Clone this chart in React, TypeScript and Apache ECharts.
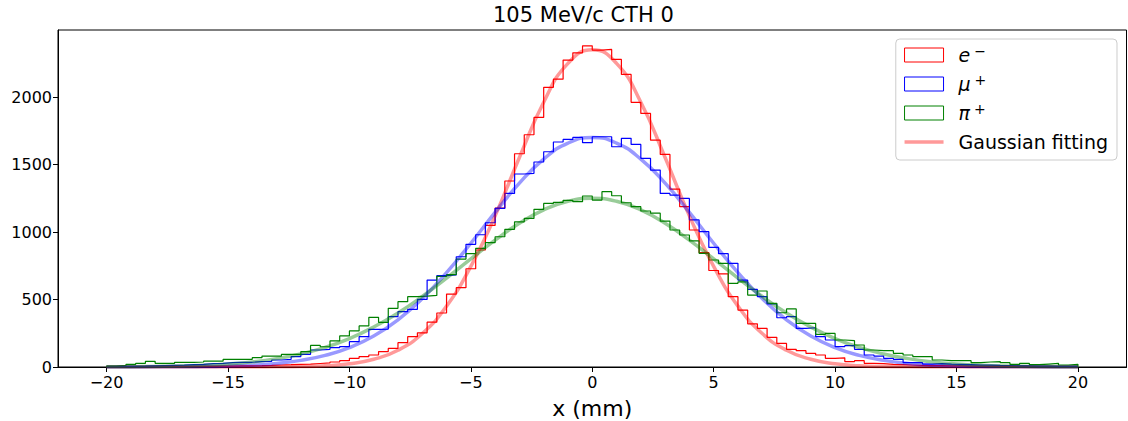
import React, { useEffect, useRef } from "react";
import * as echarts from "echarts";

// Histogram binning: 100 bins of 0.4 mm from -20 mm to 20 mm
const BIN_START = -20;
const BIN_WIDTH = 0.4;

const E_COUNTS = [
  1, 1, 1, 2, 2, 2, 3, 3, 4, 4,
  5, 6, 7, 8, 9, 10, 12, 15, 17, 20,
  22, 26, 30, 37, 47, 64, 77, 89, 114, 138,
  180, 225, 253, 332, 400, 540, 588, 728, 867, 1049,
  1178, 1378, 1580, 1721, 1849, 2072, 2133, 2274, 2328, 2380,
  2348, 2353, 2279, 2168, 1961, 1879, 1681, 1575, 1318, 1188,
  1015, 848, 715, 690, 521, 422, 320, 286, 220, 175,
  131, 121, 101, 89, 64, 68, 40, 47, 27, 25,
  20, 18, 15, 12, 10, 10, 9, 8, 7, 6,
  5, 5, 4, 3, 3, 2, 2, 2, 1, 1,
];

const MU_COUNTS = [
  3, 4, 5, 6, 8, 10, 12, 14, 17, 20,
  25, 27, 32, 35, 35, 40, 42, 52, 57, 77,
  94, 126, 131, 143, 151, 188, 225, 279, 281, 373,
  410, 427, 501, 644, 677, 682, 817, 909, 980, 1069,
  1175, 1286, 1430, 1435, 1519, 1595, 1667, 1686, 1701, 1662,
  1706, 1706, 1632, 1694, 1649, 1546, 1459, 1286, 1274, 1249,
  1090, 1003, 886, 840, 768, 644, 575, 521, 467, 365,
  373, 286, 291, 225, 200, 151, 158, 131, 89, 81,
  64, 57, 32, 32, 22, 25, 22, 20, 18, 15,
  14, 12, 11, 9, 8, 7, 6, 5, 5, 4,
];

const PI_COUNTS = [
  7, 12, 20, 27, 42, 27, 27, 35, 35, 37,
  44, 44, 57, 57, 57, 69, 81, 81, 94, 94,
  114, 160, 150, 193, 230, 267, 304, 368, 331, 435,
  484, 521, 525, 530, 672, 685, 800, 840, 879, 921,
  965, 1020, 1076, 1101, 1168, 1212, 1220, 1235, 1225, 1267,
  1237, 1299, 1269, 1217, 1188, 1156, 1140, 1081, 1015, 978,
  935, 842, 793, 768, 620, 630, 533, 563, 472, 402,
  430, 323, 323, 242, 249, 200, 195, 163, 126, 121,
  121, 101, 89, 77, 77, 52, 47, 47, 47, 32,
  37, 40, 32, 20, 27, 17, 22, 27, 15, 20,
];

// Gaussian fitting curves sampled every 1 mm from -20 to 20
const FIT_X = [
  -20, -19, -18, -17, -16, -15, -14, -13, -12, -11, -10, -9, -8, -7, -6, -5, -4, -3, -2, -1,
  0, 1, 2, 3, 4, 5, 6, 7, 8, 9, 10, 11, 12, 13, 14, 15, 16, 17, 18, 19, 20,
];
const E_FIT = [
  0, 0, 0, 0, 0, 0, 0, 1, 3, 9, 24, 57, 124, 248, 451, 746, 1120, 1552, 1962, 2250,
  2350, 2250, 1962, 1552, 1120, 746, 451, 248, 124, 57, 24, 9, 3, 1, 0, 0, 0, 0, 0, 0, 0,
];
const MU_FIT = [
  0, 0, 1, 1, 3, 7, 13, 26, 49, 86, 144, 230, 350, 507, 699, 917, 1145, 1362, 1540, 1659,
  1700, 1659, 1540, 1362, 1145, 917, 699, 507, 350, 230, 144, 86, 49, 26, 13, 7, 3, 1, 1, 0, 0,
];
const PI_FIT = [
  1, 2, 4, 7, 13, 23, 38, 62, 96, 145, 211, 296, 400, 523, 659, 801, 940, 1065, 1164, 1228,
  1250, 1228, 1164, 1065, 940, 801, 659, 523, 400, 296, 211, 145, 96, 62, 38, 23, 13, 7, 4, 2, 1,
];

const X_TICKS = [-20, -15, -10, -5, 0, 5, 10, 15, 20];
const Y_TICKS = [0, 500, 1000, 1500, 2000];

const TITLE = "105 MeV/c CTH 0";
const X_LABEL = "x (mm)";
const NAME_E = "e−";
const NAME_MU = "μ+";
const NAME_PI = "π+";
const NAME_FIT = "Gaussian fitting";

function stepData(counts: number[]): number[][] {
  const pts: number[][] = [[BIN_START, 0]];
  counts.forEach((c, i) => pts.push([BIN_START + i * BIN_WIDTH, c]));
  const end = BIN_START + counts.length * BIN_WIDTH;
  pts.push([end, counts[counts.length - 1]]);
  pts.push([end, 0]);
  return pts;
}

function fitData(vals: number[]): number[][] {
  return FIT_X.map((x, i) => [x, vals[i]]);
}

const FONT = "DejaVu Sans";
const minus = (v: number) => String(v).replace("-", "\u2212");

export default function App() {
  const ref = useRef<HTMLDivElement>(null);
  useEffect(() => {
    if (!ref.current) return;
    const chart = echarts.init(ref.current, undefined, { renderer: "svg" });
    const histSeries = (name: string, color: string, counts: number[]) => ({
      name,
      type: "line",
      step: "end",
      data: stepData(counts),
      symbol: "none",
      showSymbol: false,
      lineStyle: { color, width: 1.2 },
      itemStyle: { color },
      z: 2,
    });
    const fitSeries = (name: string, color: string, vals: number[]) => ({
      name,
      type: "line",
      data: fitData(vals),
      smooth: 0.5,
      symbol: "none",
      showSymbol: false,
      lineStyle: { color, width: 3.5 },
      itemStyle: { color },
      z: 3,
    });
    chart.setOption({
      animation: false,
      backgroundColor: "#ffffff",
      title: {
        text: TITLE,
        left: 493,
        top: 4,
        padding: 0,
        textStyle: { fontFamily: FONT, fontSize: 21, fontWeight: "normal", color: "#000" },
      },
      grid: {
        left: 58,
        right: 1.5,
        top: 30,
        bottom: 54,
        containLabel: false,
        outerBoundsMode: "none",
        show: true,
        borderColor: "#000",
        borderWidth: 1,
        backgroundColor: "transparent",
      },
      legend: {
        orient: "vertical",
        right: 11,
        top: 39,
        itemWidth: 39,
        itemHeight: 14,
        itemGap: 7,
        padding: [5, 9, 7, 7],
        backgroundColor: "rgba(255,255,255,0.8)",
        borderColor: "#cccccc",
        borderWidth: 1,
        borderRadius: 4,
        selectedMode: false,
        formatter: (name: string) => {
          if (name === NAME_E) return "{i|e}{s|−}";
          if (name === NAME_MU) return "{i|μ}{s|+}";
          if (name === NAME_PI) return "{i|π}{s|+}";
          return name;
        },
        textStyle: {
          fontFamily: FONT,
          fontSize: 19,
          color: "#000",
          lineHeight: 22,
          padding: [0, 0, 0, 10],
          rich: {
            i: { fontFamily: FONT, fontSize: 19, fontStyle: "italic", color: "#000", lineHeight: 22 },
            s: { fontFamily: FONT, fontSize: 14, color: "#000", verticalAlign: "top", lineHeight: 13, padding: [0, 0, 0, 4] },
          },
        },
        data: [
          { name: NAME_E, icon: "rect", itemStyle: { color: "rgba(0,0,0,0)", borderColor: "#ff0000", borderWidth: 1 } },
          { name: NAME_MU, icon: "rect", itemStyle: { color: "rgba(0,0,0,0)", borderColor: "#0000ff", borderWidth: 1 } },
          { name: NAME_PI, icon: "rect", itemStyle: { color: "rgba(0,0,0,0)", borderColor: "#008000", borderWidth: 1 } },
          { name: NAME_FIT, itemStyle: { opacity: 0 }, lineStyle: { width: 3.5, color: "#ff9999" } },
        ],
      },
      xAxis: {
        type: "value",
        min: -22,
        max: 22,
        splitLine: { show: false },
        axisLine: { onZero: false, lineStyle: { color: "#000", width: 1 } },
        axisTick: { customValues: X_TICKS, length: 5, lineStyle: { color: "#000", width: 1 } },
        axisLabel: {
          customValues: X_TICKS,
          formatter: (v: number) => minus(v),
          fontFamily: FONT,
          fontSize: 16,
          color: "#000",
          margin: 7,
        },
        name: X_LABEL,
        nameLocation: "middle",
        nameGap: 30,
        nameTextStyle: { fontFamily: FONT, fontSize: 22, color: "#000" },
      },
      yAxis: {
        type: "value",
        min: 0,
        max: 2497,
        splitLine: { show: false },
        axisLine: { show: true, onZero: false, lineStyle: { color: "#000", width: 1 } },
        axisTick: { show: true, customValues: Y_TICKS, length: 5, lineStyle: { color: "#000", width: 1 } },
        axisLabel: {
          customValues: Y_TICKS,
          formatter: (v: number) => String(v),
          fontFamily: FONT,
          fontSize: 16,
          color: "#000",
          margin: 6,
        },
      },
      series: [
        histSeries(NAME_E, "#ff0000", E_COUNTS),
        histSeries(NAME_MU, "#0000ff", MU_COUNTS),
        histSeries(NAME_PI, "#008000", PI_COUNTS),
        fitSeries(NAME_FIT, "rgba(255,0,0,0.4)", E_FIT),
        fitSeries("fit μ+", "rgba(0,0,255,0.4)", MU_FIT),
        fitSeries("fit π+", "rgba(0,128,0,0.4)", PI_FIT),
      ],
    });
    return () => chart.dispose();
  }, []);
  return (
    <div
      ref={ref}
      style={{ position: "absolute", left: 0, top: 0, width: 1128, height: 421 }}
    />
  );
}
